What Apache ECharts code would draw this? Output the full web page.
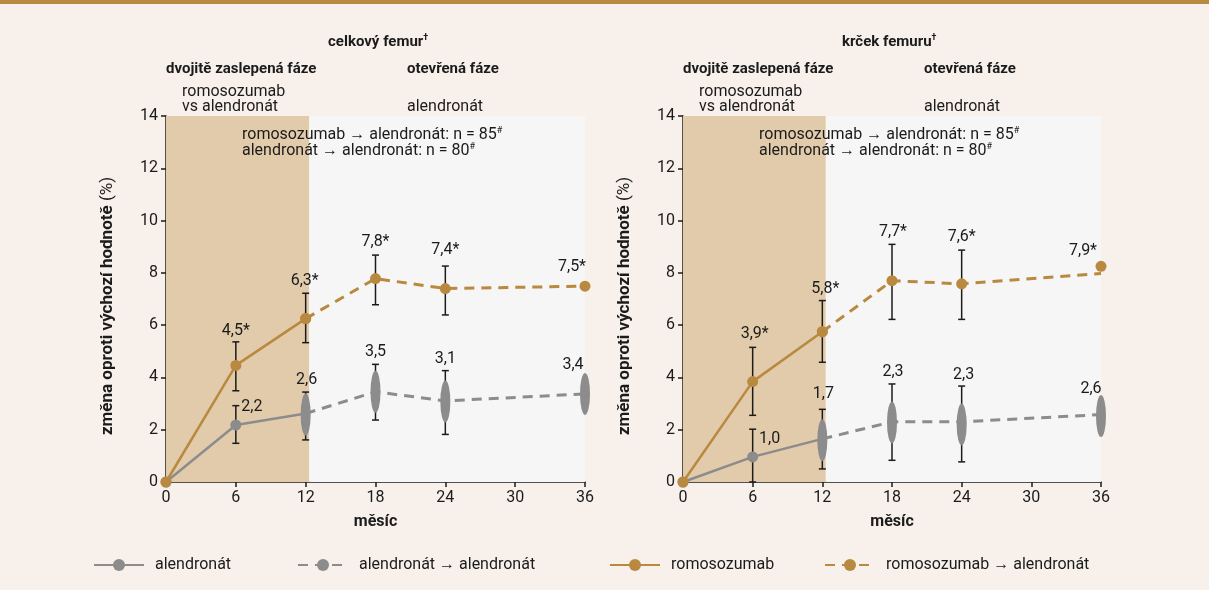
<!DOCTYPE html>
<html><head><meta charset="utf-8">
<script src="https://cdn.jsdelivr.net/npm/echarts@6/dist/echarts.min.js"></script>
<style>html,body{margin:0;padding:0;background:#F8F1EB}#c{width:1209px;height:590px}</style>
</head><body><div id="c"></div>
<script>
// ---------- data ----------
const months = [0, 6, 12, 18, 24, 36];
const xTicks = [0, 6, 12, 18, 24, 30, 36];
const yMin = 0, yMax = 14, yStep = 2;
const blindPhaseEnd = 12.3;   // end of double-blind phase (months)
const studyEnd = 36;

const panelTitles = ['celkový femur', 'krček femuru'];
const phaseNames = ['dvojitě zaslepená fáze', 'otevřená fáze'];
const blindTreatment = ['romosozumab', 'vs alendronát'];
const openTreatment = 'alendronát';
const nLines = ['romosozumab → alendronát: n = 85', 'alendronát → alendronát: n = 80'];
const seriesNames = ['alendronát', 'alendronát → alendronát', 'romosozumab', 'romosozumab → alendronát'];

// Panel 1 – celkový femur
const totalRomoLine   = [0, 4.46, 6.25, 7.78, 7.40, 7.49];
const totalRomoMarker = [0, 4.46, 6.25, 7.78, 7.40, 7.49];
const totalRomoLow    = [null, 3.49, 5.33, 6.78, 6.39, null];
const totalRomoHigh   = [null, 5.36, 7.22, 8.68, 8.26, null];
const totalRomoLabels = ['', '4,5*', '6,3*', '7,8*', '7,4*', '7,5*'];
const totalAlenLine   = [0, 2.18, 2.62, 3.45, 3.10, 3.37];
const totalAlenMarker = [0, 2.18, 2.58, 3.45, 3.08, 3.37];
const totalAlenLow    = [null, 1.48, 1.61, 2.37, 1.82, null];
const totalAlenHigh   = [null, 2.92, 3.44, 4.50, 4.26, null];
const totalAlenLabels = ['', '2,2', '2,6', '3,5', '3,1', '3,4'];

// Panel 2 – krček femuru
const neckRomoLine   = [0, 3.84, 5.75, 7.70, 7.58, 7.98];
const neckRomoMarker = [0, 3.84, 5.75, 7.70, 7.58, 8.25];
const neckRomoLow    = [null, 2.55, 4.58, 6.22, 6.22, null];
const neckRomoHigh   = [null, 5.15, 6.94, 9.09, 8.87, null];
const neckRomoLabels = ['', '3,9*', '5,8*', '7,7*', '7,6*', '7,9*'];
const neckAlenLine   = [0, 0.96, 1.65, 2.30, 2.30, 2.58];
const neckAlenMarker = [0, 0.96, 1.60, 2.28, 2.20, 2.52];
const neckAlenLow    = [null, 0, 0.50, 0.83, 0.77, null];
const neckAlenHigh   = [null, 2.02, 2.78, 3.75, 3.67, null];
const neckAlenLabels = ['', '1,0', '1,7', '2,3', '2,3', '2,6'];

// ---------- styles ----------
const GOLD = '#B8893F', GREY = '#8C8C8C', INK = '#1b1b1b';
const BEIGE = '#E2CBAA', LIGHT = '#F6F6F6';
const FONT = 'Roboto';
const ELLIPSE = 'path://M0,10A10,10 0 1,1 20,10A10,10 0 1,1 0,10Z';
// label offsets [dx, dy] relative to error-bar top (or marker if no bar)
const offsets = {
  totalRomo: [[0,0],[0,-11],[-1,-12],[0,-13],[0,-16],[-13,-19]],
  totalAlen: [[0,0],[16,1],[1,-12],[0,-12],[0,-12],[-12,-29]],
  neckRomo:  [[0,0],[2,-13],[3,-12],[1,-12],[0,-13],[-18,-15]],
  neckAlen:  [[0,0],[17,10],[1,-15],[1,-12],[2,-11],[-10,-27]]
};
const grids = [{left: 166, width: 419}, {left: 683, width: 418}];

// ---------- builders ----------
function lineSeries(name, p, vals, markers, idx, shapeFn, color, dashed) {
  const data = idx.map(i => {
    const same = vals[i] === markers[i];
    const s = shapeFn(i);
    return {value: [months[i], vals[i]], symbol: same ? s.symbol : 'none', symbolSize: s.size};
  });
  return {
    name, type: 'line', xAxisIndex: p, yAxisIndex: p, data, z: 4,
    symbol: 'circle', symbolSize: 11,
    itemStyle: {color, opacity: 1},
    lineStyle: {color, width: dashed ? 3 : 2.5, type: dashed ? [10, 7] : 'solid'},
    emphasis: {disabled: true}, animation: false
  };
}
function markerScatter(p, vals, markers, idx, shapeFn, color) {
  const data = idx.filter(i => vals[i] !== markers[i]).map(i => {
    const s = shapeFn(i);
    return {value: [months[i], markers[i]], symbol: s.symbol, symbolSize: s.size};
  });
  return {type: 'scatter', xAxisIndex: p, yAxisIndex: p, data, z: 5,
    itemStyle: {color, opacity: 1}, emphasis: {disabled: true}, animation: false};
}
function errSeries(p, markers, low, high, labels, off) {
  return {
    type: 'custom', xAxisIndex: p, yAxisIndex: p, z: 3, animation: false, silent: true,
    data: months.map((m, i) => [m, markers[i], i]),
    renderItem(params, api) {
      const i = api.value(2), m = api.value(0);
      const ch = [];
      let anchor;
      if (low[i] != null) {
        const a = api.coord([m, low[i]]), b = api.coord([m, high[i]]);
        const ls = {stroke: INK, lineWidth: 1.5};
        ch.push({type: 'line', shape: {x1: a[0], y1: a[1], x2: b[0], y2: b[1]}, style: ls});
        ch.push({type: 'line', shape: {x1: a[0]-3.5, y1: a[1], x2: a[0]+3.5, y2: a[1]}, style: ls});
        ch.push({type: 'line', shape: {x1: b[0]-3.5, y1: b[1], x2: b[0]+3.5, y2: b[1]}, style: ls});
        anchor = b;
      } else {
        anchor = api.coord([m, markers[i]]);
      }
      if (labels[i]) {
        ch.push({type: 'text', x: anchor[0] + off[i][0], y: anchor[1] + off[i][1],
          style: {text: labels[i], align: 'center', verticalAlign: 'middle',
            fontFamily: FONT, fontSize: 16, fill: INK}, z2: 10});
      }
      return {type: 'group', children: ch};
    }
  };
}
function bgSeries(p) {
  return {type: 'line', xAxisIndex: p, yAxisIndex: p, data: [], z: 1, silent: true,
    markArea: {silent: true, data: [
      [{xAxis: 0, itemStyle: {color: BEIGE}}, {xAxis: blindPhaseEnd}],
      [{xAxis: blindPhaseEnd, itemStyle: {color: LIGHT}}, {xAxis: studyEnd}]
    ]}};
}
const circ = () => ({symbol: 'circle', size: 11});
const greyShape = (i) => i >= 2 ? {symbol: ELLIPSE, size: [10, 42]} : {symbol: 'circle', size: 11};

const panels = [
  {romoL: totalRomoLine, romoM: totalRomoMarker, romoLo: totalRomoLow, romoHi: totalRomoHigh, romoLab: totalRomoLabels,
   alenL: totalAlenLine, alenM: totalAlenMarker, alenLo: totalAlenLow, alenHi: totalAlenHigh, alenLab: totalAlenLabels,
   offR: offsets.totalRomo, offA: offsets.totalAlen},
  {romoL: neckRomoLine, romoM: neckRomoMarker, romoLo: neckRomoLow, romoHi: neckRomoHigh, romoLab: neckRomoLabels,
   alenL: neckAlenLine, alenM: neckAlenMarker, alenLo: neckAlenLow, alenHi: neckAlenHigh, alenLab: neckAlenLabels,
   offR: offsets.neckRomo, offA: offsets.neckAlen}
];
const solidIdx = [0, 1, 2], dashIdx = [2, 3, 4, 5];
const series = [];
panels.forEach((d, p) => {
  series.push(bgSeries(p));
  series.push(errSeries(p, d.alenM, d.alenLo, d.alenHi, d.alenLab, d.offA));
  series.push(errSeries(p, d.romoM, d.romoLo, d.romoHi, d.romoLab, d.offR));
  series.push(lineSeries(seriesNames[0], p, d.alenL, d.alenM, solidIdx, greyShape, GREY, false));
  series.push(lineSeries(seriesNames[1], p, d.alenL, d.alenM, dashIdx, greyShape, GREY, true));
  series.push(markerScatter(p, d.alenL, d.alenM, [0,1,2,3,4,5], greyShape, GREY));
  series.push(lineSeries(seriesNames[2], p, d.romoL, d.romoM, solidIdx, circ, GOLD, false));
  series.push(lineSeries(seriesNames[3], p, d.romoL, d.romoM, dashIdx, circ, GOLD, true));
  series.push(markerScatter(p, d.romoL, d.romoM, [0,1,2,3,4,5], circ, GOLD));
});

const axisCommon = {
  axisLine: {show: true, lineStyle: {color: INK, width: 1.5}},
  axisTick: {show: true, length: 5, lineStyle: {color: INK, width: 1.5}},
  splitLine: {show: false},
  axisLabel: {color: INK, fontFamily: FONT, fontSize: 16}
};
const xAxis = grids.map((g, p) => Object.assign({}, axisCommon, {
  type: 'value', gridIndex: p, min: xTicks[0], max: xTicks[xTicks.length-1], interval: xTicks[1]-xTicks[0],
  axisLabel: Object.assign({}, axisCommon.axisLabel, {margin: 8}),
  name: 'měsíc', nameLocation: 'middle', nameGap: 32,
  nameTextStyle: {color: INK, fontFamily: FONT, fontSize: 16, fontWeight: 'bold'}
}));
const yAxis = grids.map((g, p) => Object.assign({}, axisCommon, {
  type: 'value', gridIndex: p, min: yMin, max: yMax, interval: yStep,
  axisLabel: Object.assign({}, axisCommon.axisLabel, {margin: 8}),
  name: '{b|změna oproti výchozí hodnotě} {r|(%)}', nameLocation: 'middle', nameGap: 50, nameRotate: 90,
  nameTextStyle: {color: INK, fontFamily: FONT, fontSize: 17, padding: [0, 14, 0, 0],
    rich: {b: {fontFamily: FONT, fontSize: 17, fontWeight: 'bold', color: INK},
           r: {fontFamily: FONT, fontSize: 17, color: INK}}}
}));

// ---------- annotation texts ----------
function txt(x, y, text, opts) {
  return {type: 'text', x, y, z: 100, silent: true,
    style: Object.assign({text, fontFamily: FONT, fontSize: 16, fill: INK, verticalAlign: 'middle'}, opts || {})};
}
function richSup(x, y, main, sup, bold) {
  return {type: 'text', x, y, z: 100, silent: true, style: {
    text: '{m|' + main + '}{s|' + sup + '}', verticalAlign: 'middle', fill: INK,
    rich: {m: {fontFamily: FONT, fontSize: bold ? 15 : 16, fontWeight: bold ? 'bold' : 'normal', fill: INK, lineHeight: 18},
           s: {fontFamily: FONT, fontSize: 9, fontWeight: bold ? 'bold' : 'normal', fill: INK, verticalAlign: 'top', lineHeight: 18}}
  }};
}
const graphic = [{type: 'rect', shape: {x: 0, y: 0, width: 1209, height: 4}, style: {fill: '#B98B42'}, silent: true}];
[0, 517].forEach((dx, p) => {
  graphic.push(richSup((p ? 842 : 328), 42, panelTitles[p], '†', true));
  graphic.push(txt(166 + dx, 69, phaseNames[0], {fontWeight: 'bold', fontSize: 15}));
  graphic.push(txt(407 + dx, 69, phaseNames[1], {fontWeight: 'bold', fontSize: 15}));
  graphic.push(txt(182 + dx, 92, blindTreatment[0]));
  graphic.push(txt(182 + dx, 107, blindTreatment[1]));
  graphic.push(txt(407 + dx, 107, openTreatment));
  graphic.push(richSup(242 + dx, 135, nLines[0], '#', false));
  graphic.push(richSup(242 + dx, 151, nLines[1], '#', false));
});

const legendLeft = [93, 297, 609, 824];
const legend = seriesNames.map((n, k) => ({
  data: [n], left: legendLeft[k], top: 557, padding: 0, itemWidth: 50, itemHeight: 15,
  selectedMode: false,
  textStyle: {fontFamily: FONT, fontSize: 16, color: INK, padding: [0, 0, 0, 6]}
}));

const chart = echarts.init(document.getElementById('c'), null, {renderer: 'canvas'});
chart.setOption({
  backgroundColor: '#F8F1EB',
  animation: false,
  grid: grids.map(g => ({left: g.left, width: g.width, top: 116, height: 366})),
  xAxis, yAxis, legend, series, graphic
});
</script></body></html>
